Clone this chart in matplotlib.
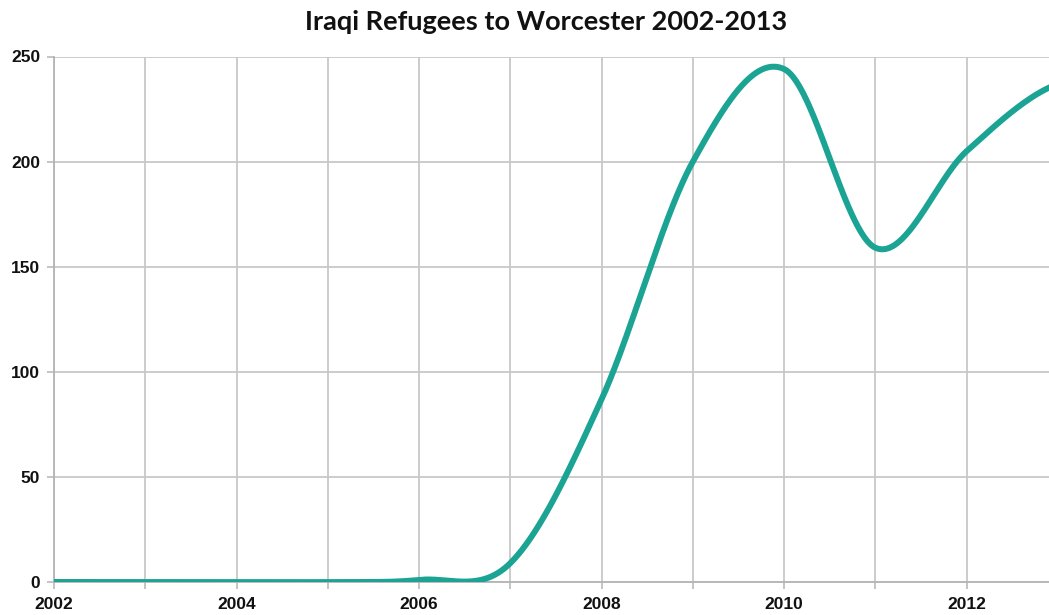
import numpy as np
import matplotlib
matplotlib.use("Agg")
import matplotlib.pyplot as plt

# Yearly arrivals of Iraqi refugees to Worcester
years = [2002, 2003, 2004, 2005, 2006, 2007, 2008, 2009, 2010, 2011, 2012, 2013]
refugees = [0, 0, 0, 0, 1, 9, 87, 200, 244, 159, 205, 237]

y_ticks = [0, 50, 100, 150, 200, 250]
x_tick_labels = ["2002", "", "2004", "", "2006", "", "2008", "", "2010", "", "2012", ""]

title = "Iraqi Refugees to Worcester 2002-2013"
line_color = "#1ba393"


def catmull_rom(x, y, per_seg=120):
    """Smooth curve through (x, y) using Catmull-Rom (cubic Hermite) segments."""
    x = np.asarray(x, float)
    y = np.asarray(y, float)
    n = len(x)
    m = np.empty(n)
    m[1:-1] = (y[2:] - y[:-2]) / (x[2:] - x[:-2])
    m[0] = (y[1] - y[0]) / (x[1] - x[0]) / 2
    m[-1] = (y[-1] - y[-2]) / (x[-1] - x[-2]) / 2
    xs_all, ys_all = [], []
    for i in range(n - 1):
        h = x[i + 1] - x[i]
        t = np.linspace(0, 1, per_seg, endpoint=(i == n - 2))
        h00 = 2 * t**3 - 3 * t**2 + 1
        h10 = t**3 - 2 * t**2 + t
        h01 = -2 * t**3 + 3 * t**2
        h11 = t**3 - t**2
        xs_all.append(x[i] + t * h)
        ys_all.append(h00 * y[i] + h10 * h * m[i] + h01 * y[i + 1] + h11 * h * m[i + 1])
    return np.concatenate(xs_all), np.concatenate(ys_all)


W, H = 1049, 615
fig = plt.figure(figsize=(W / 100, H / 100), dpi=100)
fig.patch.set_facecolor("white")

# plot area in pixels: x from 54 to 1058 (extends slightly past the canvas), y from 56.5 to 582
left_px, right_px, top_px, bottom_px = 54.0, 1058.0, 56.5, 582.0
ax = fig.add_axes([left_px / W, (H - bottom_px) / H,
                   (right_px - left_px) / W, (bottom_px - top_px) / H])

xs, ys = catmull_rom(years, refugees)
ax.plot(xs, ys, color=line_color, lw=4.3, solid_capstyle="round", zorder=3)

ax.set_xlim(years[0], years[-1])
ax.set_ylim(0, 250)
ax.set_xticks(years)
ax.set_xticklabels(x_tick_labels)
ax.set_yticks(y_ticks)
ax.set_yticklabels([str(v) for v in y_ticks])

grid_color = "#c8c8c8"
ax.grid(True, color=grid_color, lw=1.3, zorder=0)
ax.set_axisbelow(True)
for s in ["top", "right"]:
    ax.spines[s].set_visible(False)
for s in ["left", "bottom"]:
    ax.spines[s].set_color("#b4b4b4")
    ax.spines[s].set_linewidth(1.3)

ax.tick_params(axis="both", direction="out", length=5, width=1.1, color="#b4b4b4",
               labelsize=12.5, labelcolor="#111111")
ax.tick_params(axis="y", pad=5)
ax.tick_params(axis="x", pad=6)
for lab in ax.get_xticklabels() + ax.get_yticklabels():
    lab.set_family("Liberation Sans")
    lab.set_fontweight("bold")

fig.text(546 / W, 1 - 22 / H, title, ha="center", va="center",
         fontsize=19.5, fontweight="bold", family="Lato", color="#111111")

fig.savefig("out.png", dpi=100, facecolor="white")
